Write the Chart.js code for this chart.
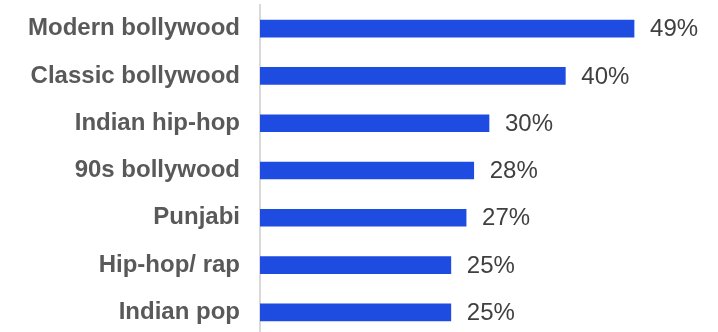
<!DOCTYPE html>
<html>
<head>
<meta charset="utf-8">
<script src="https://cdn.jsdelivr.net/npm/chart.js@4"></script>
<style>
  body { margin: 0; overflow: hidden; background: #fff; }
</style>
</head>
<body>
<canvas id="myChart" width="718" height="336"></canvas>
<script>
const genres = ['Modern bollywood', 'Classic bollywood', 'Indian hip-hop', '90s bollywood', 'Punjabi', 'Hip-hop/ rap', 'Indian pop'];
const shares = [49, 40, 30, 28, 27, 25, 25];

// value labels next to each bar
const valueLabels = {
  id: 'valueLabels',
  afterDatasetsDraw(chart) {
    const ctx = chart.ctx;
    const meta = chart.getDatasetMeta(0);
    ctx.save();
    ctx.font = '24px "Liberation Sans", Arial, sans-serif';
    ctx.fillStyle = '#404040';
    ctx.textAlign = 'left';
    ctx.textBaseline = 'middle';
    meta.data.forEach((bar, i) => {
      ctx.fillText(shares[i] + '%', bar.x + 16, bar.y + 1);
    });
    ctx.restore();
  }
};

const ctx = document.getElementById('myChart').getContext('2d');

new Chart(ctx, {
  type: 'bar',
  data: {
    labels: genres,
    datasets: [{
      data: shares,
      backgroundColor: '#1e4be0',
      barThickness: 17
    }]
  },
  options: {
    indexAxis: 'y',
    responsive: false,
    animation: false,
    layout: { padding: { top: 5, right: 0, left: 0, bottom: 0 } },
    plugins: {
      legend: { display: false },
      tooltip: { enabled: false }
    },
    scales: {
      x: {
        display: false,
        min: 0,
        max: 60
      },
      y: {
        afterFit(scale) {
          scale.width = 260;
          scale.paddingTop = 0;
          scale.paddingBottom = 0;
        },
        grid: { display: false, drawTicks: false },
        border: { display: true, color: '#d9d9d9', width: 2 },
        ticks: {
          padding: 20,
          color: '#595959',
          font: { family: '"Liberation Sans", Arial, sans-serif', size: 24, weight: 'bold' }
        }
      }
    }
  },
  plugins: [valueLabels]
});
</script>
</body>
</html>
